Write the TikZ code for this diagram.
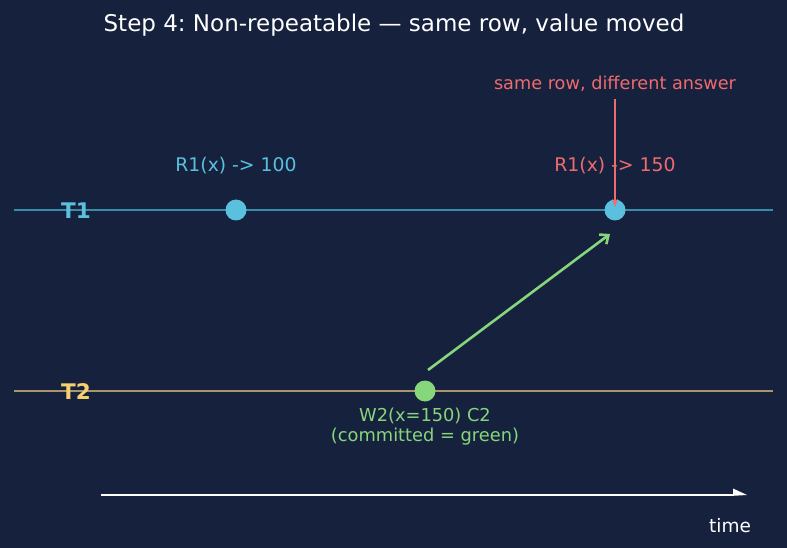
\documentclass[tikz,border=0pt]{standalone}
\usepackage{fontspec}
\setmainfont{DejaVu Sans}
\usetikzlibrary{arrows.meta}
\frenchspacing
\definecolor{bg}{HTML}{16213E}
\definecolor{tone}{HTML}{5BC0DE}
\definecolor{tonel}{HTML}{3A8BA8}
\definecolor{ttwo}{HTML}{F4D06F}
\definecolor{ttwol}{HTML}{A8956A}
\definecolor{grn}{HTML}{86D67C}
\definecolor{redc}{HTML}{EE6B6E}
\tikzset{
  lbl/.style={font=\fontsize{18.8}{21}\selectfont, inner sep=0pt},
  tlabel/.style={font=\fontsize{21.5}{24}\selectfont\bfseries, inner sep=0pt},
  dot/.style={circle, minimum size=21pt, inner sep=0pt}
}
\begin{document}
\begin{tikzpicture}[x=1pt,y=-1pt]
\fill[bg] (0,0) rectangle (787,548);
\useasboundingbox (0,0) rectangle (787,548);
\node[font=\fontsize{23}{26}\selectfont, text=white, inner sep=0pt] (title) at (394,25) {Step 4: Non-repeatable — same row, value moved};
% lanes
\coordinate (t1s) at (14,210); \coordinate (t1e) at (773,210);
\coordinate (t2s) at (14,391); \coordinate (t2e) at (773,391);
\draw[tonel, line width=2pt] (t1s) -- (t1e);
\draw[ttwol, line width=2pt] (t2s) -- (t2e);
\node[tlabel, text=tone] (T1) at (76,211) {T1};
\node[tlabel, text=ttwo] (T2) at (76,392) {T2};
% events
\node[dot, fill=tone] (r1a) at (236,210) {};
\node[dot, fill=tone] (r1b) at (615,210) {};
\node[dot, fill=grn] (w2) at (425,391) {};
\node[lbl, text=tone] (l1) at (236,166) {R1(x) -> 100};
\node[lbl, text=redc] (l2) at (615,166) {R1(x) -> 150};
\node[lbl, font=\fontsize{17.8}{21}\selectfont, text=grn] (l3) at (425,416) {W2(x=150) C2};
\node[lbl, font=\fontsize{17.8}{21}\selectfont, text=grn] (l4) at (425,437) {(committed = green)};
\node[lbl, font=\fontsize{17.7}{21}\selectfont, text=redc] (note) at (615,84) {same row, different answer};
% arrows
\coordinate (gs) at (428,370); \coordinate (ge) at (610,234);
\draw[grn, line width=2.6pt, -{Straight Barb[length=7pt,width=12pt]}] (gs) -- (ge);
\coordinate (rs) at (615,99); \coordinate (re) at (615,207);
\draw[redc, line width=1.5pt, -{Stealth[length=8pt,width=6pt]}] (rs) -- (re);
% time axis
\coordinate (ts) at (101,495); \coordinate (te) at (747,495);
\draw[white, line width=1.5pt] (ts) -- (733,495);
\fill[white] (733,488.5) -- (te) -- (733,495.8) -- cycle;
\node[lbl, font=\fontsize{18.5}{21}\selectfont, text=white] (time) at (730,526) {time};
\end{tikzpicture}
\end{document}
